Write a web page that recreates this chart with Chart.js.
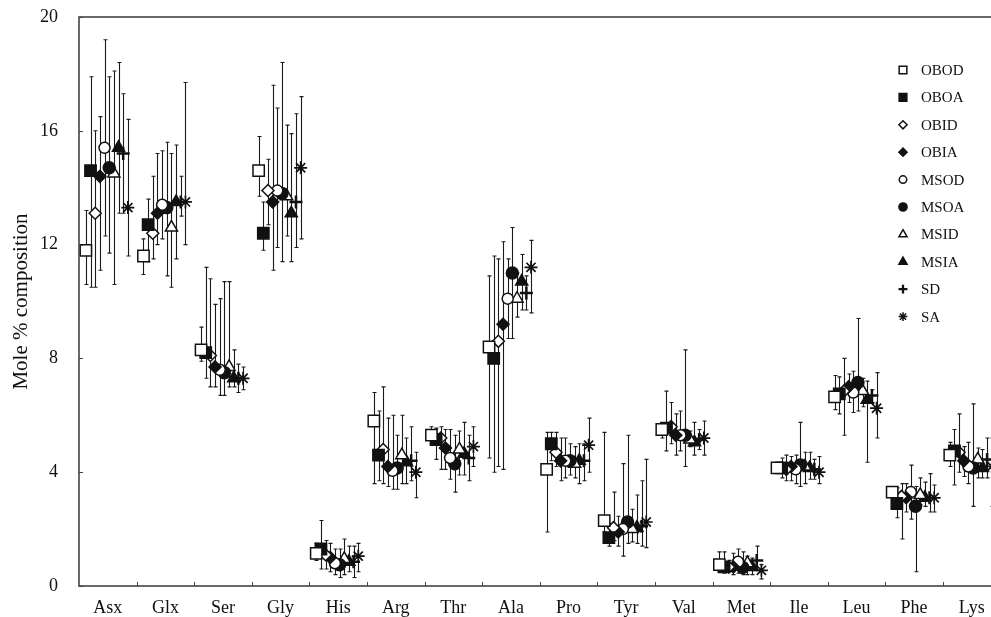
<!DOCTYPE html>
<html>
<head>
<meta charset="utf-8">
<script src="https://cdn.jsdelivr.net/npm/chart.js@4/dist/chart.umd.min.js"></script>
<style>
  html, body { margin: 0; padding: 0; background: #fff; overflow: hidden; }
  #wrap { width: 1010px; height: 617px; }
</style>
</head>
<body>
<div id="wrap"><canvas id="c" width="1010" height="617"></canvas></div>
<script>
// Amino acid categories and y-axis ticks
const categories = ['Asx','Glx','Ser','Gly','His','Arg','Thr','Ala','Pro','Tyr','Val','Met','Ile','Leu','Phe','Lys'];
const yTicks = [0, 4, 8, 12, 16, 20];

// Mean mole % per series, with the upper and lower ends of each error bar
const OBOD_mean = [11.8, 11.6, 8.3, 14.6, 1.15, 5.8, 5.3, 8.4, 4.1, 2.3, 5.5, 0.75, 4.15, 6.65, 3.3, 4.6];
const OBOD_hi   = [13.2, 12.2, 9.1, 15.8, 1.5, 6.8, 5.6, 10.9, 5.4, 5.4, 5.7, 1.2, 4.3, 7.4, 3.5, 5.05];
const OBOD_lo   = [10.6, 10.95, 7.9, 13.7, 0.9, 3.6, 5.0, 4.5, 1.9, 1.9, 5.2, 0.5, 4.0, 6.2, 3.1, 4.2];

const OBOA_mean = [14.6, 12.7, 8.2, 12.4, 1.3, 4.6, 5.15, 8.0, 5.0, 1.7, 5.55, 0.67, 4.15, 6.75, 2.9, 4.75];
const OBOA_hi   = [17.9, 13.6, 11.2, 13.5, 2.3, 6.15, 5.55, 11.6, 5.4, 2.2, 6.85, 1.2, 4.5, 7.35, 3.45, 5.5];
const OBOA_lo   = [10.5, 11.4, 7.3, 11.8, 0.6, 3.7, 4.45, 4.0, 4.4, 1.4, 4.75, 0.45, 3.8, 6.05, 2.4, 3.55];

const OBID_mean = [13.1, 12.4, 8.1, 13.9, 1.1, 4.8, 5.2, 8.6, 4.7, 2.05, 5.6, 0.67, 4.1, 6.85, 3.15, 4.7];
const OBID_hi   = [16.0, 14.4, 10.8, 15.0, 1.6, 7.0, 5.6, 11.5, 5.4, 3.3, 6.45, 0.9, 4.6, 8.0, 3.6, 6.05];
const OBID_lo   = [10.5, 11.5, 7.0, 12.7, 0.6, 3.6, 4.1, 4.2, 4.2, 1.6, 5.0, 0.5, 3.7, 5.3, 1.65, 4.0];

const OBIA_mean = [14.4, 13.1, 7.7, 13.5, 1.0, 4.2, 4.85, 9.2, 4.4, 1.9, 5.3, 0.67, 4.2, 7.0, 3.1, 4.4];
const OBIA_hi   = [16.5, 15.2, 9.9, 17.6, 1.5, 5.9, 5.5, 12.1, 5.2, 2.45, 6.05, 1.15, 4.55, 7.45, 3.6, 4.9];
const OBIA_lo   = [11.1, 12.0, 7.0, 11.1, 0.5, 3.5, 4.1, 4.1, 3.7, 1.4, 4.6, 0.4, 3.7, 6.45, 2.6, 3.85];

const MSOD_mean = [15.4, 13.4, 7.6, 13.9, 0.8, 4.05, 4.5, 10.1, 4.4, 2.0, 5.3, 0.85, 4.1, 6.8, 3.3, 4.2];
const MSOD_hi   = [19.2, 15.3, 10.1, 16.8, 1.3, 6.0, 5.5, 11.5, 5.2, 4.3, 6.15, 1.3, 4.6, 7.55, 4.25, 5.05];
const MSOD_lo   = [12.3, 12.2, 6.7, 11.9, 0.4, 3.4, 3.75, 8.7, 3.8, 1.05, 4.75, 0.45, 3.6, 6.1, 2.35, 3.6];

const MSOA_mean = [14.7, 13.3, 7.5, 13.8, 0.75, 4.15, 4.3, 11.0, 4.4, 2.25, 5.3, 0.65, 4.25, 7.15, 2.8, 4.15];
const MSOA_hi   = [17.9, 15.6, 10.7, 18.4, 1.3, 5.3, 5.3, 12.6, 5.0, 5.3, 8.3, 1.2, 5.75, 9.4, 3.5, 6.4];
const MSOA_lo   = [11.7, 10.9, 6.7, 11.4, 0.3, 3.4, 3.3, 8.7, 3.9, 1.5, 4.2, 0.4, 3.5, 6.15, 0.5, 2.8];

const MSID_mean = [14.5, 12.6, 7.7, 13.7, 0.95, 4.6, 4.8, 10.1, 4.3, 2.0, 5.15, 0.8, 4.2, 6.85, 3.2, 4.45];
const MSID_hi   = [18.1, 15.2, 10.7, 16.2, 1.65, 6.0, 5.45, 11.0, 4.9, 2.7, 5.45, 1.05, 4.7, 7.3, 3.8, 4.85];
const MSID_lo   = [10.6, 10.5, 7.0, 12.3, 0.4, 3.6, 3.9, 9.45, 3.8, 1.55, 4.9, 0.4, 3.6, 6.3, 2.85, 3.8];

const MSIA_mean = [15.4, 13.5, 7.3, 13.1, 0.85, 4.35, 4.65, 10.7, 4.4, 2.05, 5.05, 0.67, 4.15, 6.55, 3.1, 4.15];
const MSIA_hi   = [18.4, 15.5, 8.3, 15.9, 1.4, 5.2, 5.75, 11.65, 5.0, 3.2, 5.75, 0.98, 4.7, 7.2, 3.65, 4.8];
const MSIA_lo   = [13.1, 11.5, 7.0, 11.4, 0.5, 3.6, 3.9, 9.7, 3.6, 1.5, 4.6, 0.4, 3.75, 4.35, 2.8, 3.8];

const SD_mean = [15.2, 13.5, 7.3, 13.5, 0.85, 4.4, 4.5, 10.3, 4.4, 2.1, 5.15, 0.9, 4.1, 6.7, 3.1, 4.45];
const SD_hi   = [17.3, 14.4, 7.8, 16.6, 1.4, 5.6, 5.3, 10.9, 5.0, 3.7, 5.5, 1.4, 4.45, 6.9, 3.95, 5.2];
const SD_lo   = [13.1, 13.0, 6.8, 11.9, 0.3, 3.7, 3.7, 9.7, 3.7, 1.4, 4.8, 0.55, 3.75, 6.45, 2.6, 3.8];

const SA_mean = [13.3, 13.5, 7.3, 14.7, 1.05, 4.0, 4.9, 11.2, 4.95, 2.25, 5.2, 0.55, 4.0, 6.25, 3.1, 4.2];
const SA_hi   = [16.4, 17.7, 7.7, 17.2, 1.5, 4.7, 5.6, 12.15, 5.9, 4.45, 5.8, 0.75, 4.55, 7.5, 3.55, 5.2];
const SA_lo   = [11.6, 12.0, 6.9, 12.2, 0.5, 3.1, 4.2, 9.6, 4.0, 1.35, 4.6, 0.25, 3.6, 5.2, 2.6, 2.8];

// Series descriptions: label, values and marker appearance
const seriesDefs = [
  { label: 'OBOD', mean: OBOD_mean, hi: OBOD_hi, lo: OBOD_lo, style: 'rect',     r: 8,   open: true  },
  { label: 'OBOA', mean: OBOA_mean, hi: OBOA_hi, lo: OBOA_lo, style: 'rect',     r: 8,   open: false },
  { label: 'OBID', mean: OBID_mean, hi: OBID_hi, lo: OBID_lo, style: 'rectRot',  r: 6,   open: true  },
  { label: 'OBIA', mean: OBIA_mean, hi: OBIA_hi, lo: OBIA_lo, style: 'rectRot',  r: 6,   open: false },
  { label: 'MSOD', mean: MSOD_mean, hi: MSOD_hi, lo: MSOD_lo, style: 'circle',   r: 5.5, open: true  },
  { label: 'MSOA', mean: MSOA_mean, hi: MSOA_hi, lo: MSOA_lo, style: 'circle',   r: 6,   open: false },
  { label: 'MSID', mean: MSID_mean, hi: MSID_hi, lo: MSID_lo, style: 'triangle', r: 7,   open: true  },
  { label: 'MSIA', mean: MSIA_mean, hi: MSIA_hi, lo: MSIA_lo, style: 'triangle', r: 7,   open: false },
  { label: 'SD',   mean: SD_mean,   hi: SD_hi,   lo: SD_lo,   style: 'cross',    r: 6.5, open: false, bw: 2.5 },
  { label: 'SA',   mean: SA_mean,   hi: SA_hi,   lo: SA_lo,   style: 'star',     r: 6.5, open: false, bw: 1.7 }
];

const FONT = "'Liberation Serif', 'Times New Roman', serif";
const INK = '#111';
const AXIS = '#444';

// Horizontal spread of the ten series inside each category slot
const spread = i => (i - 4.7) * 0.081;

const datasets = seriesDefs.map((s, i) => ({
  label: s.label,
  data: s.mean.map((v, j) => ({ x: j + spread(i), y: v })),
  pointStyle: s.style,
  pointRadius: s.r,
  pointHoverRadius: s.r,
  pointBackgroundColor: s.open ? '#fff' : INK,
  pointBorderColor: INK,
  pointBorderWidth: s.bw || 1.5,
  showLine: false,
  clip: false
}));

// Error bars drawn beneath the markers
const errorBars = {
  id: 'errorBars',
  beforeDatasetsDraw(chart) {
    const { ctx, scales: { x, y } } = chart;
    ctx.save();
    ctx.strokeStyle = '#1a1a1a';
    ctx.lineWidth = 1.1;
    seriesDefs.forEach((s, i) => {
      s.mean.forEach((v, j) => {
        const px = Math.round(x.getPixelForValue(j + spread(i))) + 0.5;
        const yt = y.getPixelForValue(s.hi[j]);
        const yb = y.getPixelForValue(s.lo[j]);
        ctx.beginPath();
        ctx.moveTo(px, yt); ctx.lineTo(px, yb);
        ctx.moveTo(px - 2, yt); ctx.lineTo(px + 2, yt);
        ctx.moveTo(px - 2, yb); ctx.lineTo(px + 2, yb);
        ctx.stroke();
      });
    });
    ctx.restore();
  }
};

// Plot frame and inward tick marks
const frame = {
  id: 'frame',
  afterDraw(chart) {
    const { ctx, chartArea: a, scales: { x, y } } = chart;
    ctx.save();
    ctx.strokeStyle = AXIS;
    ctx.lineWidth = 1.6;
    ctx.strokeRect(a.left, a.top, a.right - a.left, a.bottom - a.top);
    ctx.lineWidth = 1;
    ctx.beginPath();
    yTicks.forEach(t => {
      const py = Math.round(y.getPixelForValue(t)) + 0.5;
      ctx.moveTo(a.left, py); ctx.lineTo(a.left + 4, py);
    });
    for (let k = 0; k < categories.length - 1; k++) {
      const px = Math.round(x.getPixelForValue(k + 0.5)) + 0.5;
      ctx.moveTo(px, a.bottom); ctx.lineTo(px, a.bottom - 4);
    }
    ctx.stroke();
    ctx.restore();
  }
};

// Key listing the ten series, in the upper right of the plot
const key = {
  id: 'key',
  afterDraw(chart) {
    const { ctx } = chart;
    ctx.save();
    ctx.font = '15px ' + FONT;
    ctx.textBaseline = 'middle';
    ctx.textAlign = 'left';
    seriesDefs.forEach((s, i) => {
      const cy = 70 + i * 27.4;
      const cx = 903;
      ctx.fillStyle = s.open ? '#fff' : INK;
      ctx.strokeStyle = INK;
      ctx.lineWidth = s.bw ? s.bw * 0.9 : 1.5;
      Chart.helpers.drawPoint(ctx, {
        pointStyle: s.style, radius: s.r * 0.68, rotation: 0, borderWidth: ctx.lineWidth
      }, cx, cy);
      ctx.fillStyle = INK;
      ctx.fillText(s.label, 921, cy + 1);
    });
    ctx.restore();
  }
};

new Chart(document.getElementById('c'), {
  type: 'scatter',
  data: { datasets },
  plugins: [errorBars, frame, key],
  options: {
    responsive: false,
    animation: false,
    events: [],
    layout: { padding: { top: 17, right: 8, left: 0, bottom: 0 } },
    plugins: { legend: { display: false }, tooltip: { enabled: false } },
    scales: {
      x: {
        type: 'linear',
        min: -0.5,
        max: categories.length - 0.5,
        afterBuildTicks: s => { s.ticks = categories.map((c, i) => ({ value: i })); },
        afterFit: s => { s.height = 31; s.paddingLeft = 0; s.paddingRight = 0; },
        grid: { display: false, drawTicks: false },
        border: { display: false },
        ticks: {
          autoSkip: false, maxRotation: 0, padding: 11, color: INK,
          font: { family: FONT, size: 18 },
          callback: v => categories[v]
        }
      },
      y: {
        type: 'linear',
        min: 0,
        max: 20,
        afterBuildTicks: s => { s.ticks = yTicks.map(v => ({ value: v })); },
        afterFit: s => { s.width = 79; s.paddingTop = 0; s.paddingBottom = 0; },
        grid: { display: false, drawTicks: false },
        border: { display: false },
        ticks: { padding: 21, color: INK, font: { family: FONT, size: 18 } },
        title: {
          display: true, text: 'Mole % composition', color: INK,
          font: { family: FONT, size: 21 }, padding: { top: 9, bottom: 0 }
        }
      }
    }
  }
});
</script>
</body>
</html>
